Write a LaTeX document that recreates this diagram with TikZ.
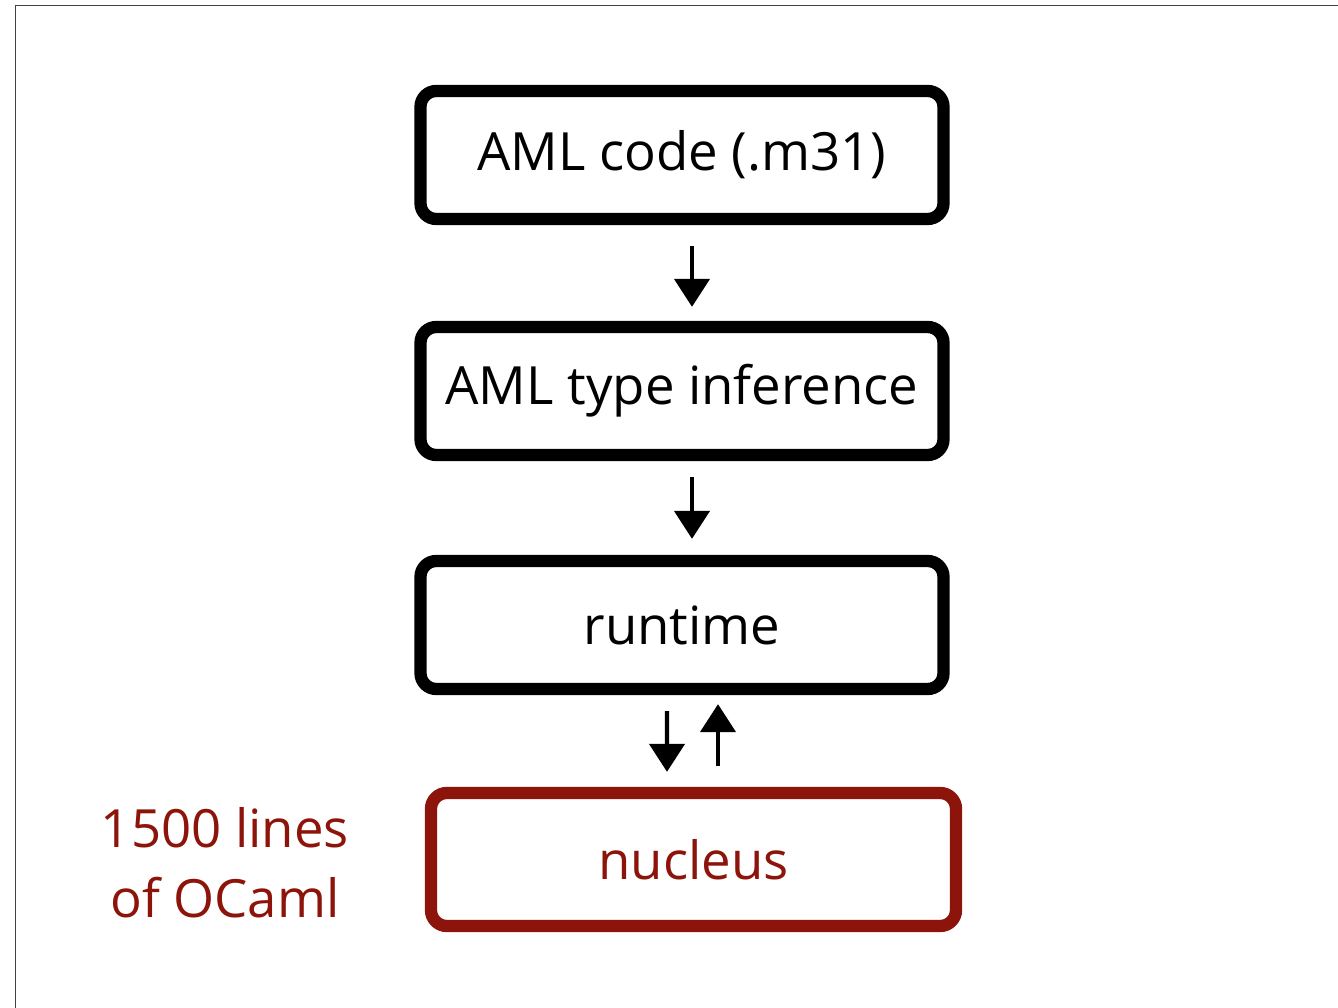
\documentclass[tikz,border=0pt]{standalone}
\usepackage{fontspec}
\setmainfont{Open Sans}
\usepackage{tikz}
\usetikzlibrary{arrows.meta}
\definecolor{rust}{RGB}{140,20,10}
\tikzstyle{stage}=[draw, line width=7pt, rounded corners=9pt, fill=white,
    minimum width=10.46cm, minimum height=2.56cm, inner sep=0pt,
    font=\fontsize{30}{36}\selectfont]
\tikzstyle{flow}=[line width=2.5pt, -{Triangle[width=0.7cm,length=0.56cm]}]
\newcommand{\stage}{\node[stage]}

\begin{document}
\begin{tikzpicture}[x=1cm, y=1cm]
\useasboundingbox (0,0) rectangle (26.76,-20.16);
\draw[darkgray, line width=1pt] (0.31,-20.16) -- (0.31,-0.11) -- (26.76,-0.11);
\stage (code) at (13.64,-3.10) {AML code (.m31)};
\stage (infer) at (13.64,-7.82) {AML type inference};
\stage (run) at (13.64,-12.50) {runtime};
\stage[draw=rust, text=rust, minimum width=10.5cm, minimum height=2.66cm]
    (nuc) at (13.87,-17.19) {nucleus};
\node[text=rust, align=center, font=\fontsize{30}{40}\selectfont]
    (ocaml) at (4.5,-17.25) {1500 lines\\of OCaml};
\draw[flow, shorten <=0.42cm, shorten >=0.28cm]
    ([xshift=0.2cm]code.south) -- ([xshift=0.2cm]infer.north);
\draw[flow, shorten <=0.32cm, shorten >=0.32cm]
    ([xshift=0.2cm]infer.south) -- ([xshift=0.2cm]run.north);
\draw[flow, shorten <=0.32cm, shorten >=0.30cm]
    ([xshift=-0.3cm]run.south) -- ([xshift=-0.53cm]nuc.north);
\draw[flow, shorten <=0.42cm, shorten >=0.18cm]
    ([xshift=0.49cm]nuc.north) -- ([xshift=0.72cm]run.south);
\end{tikzpicture}
\end{document}
